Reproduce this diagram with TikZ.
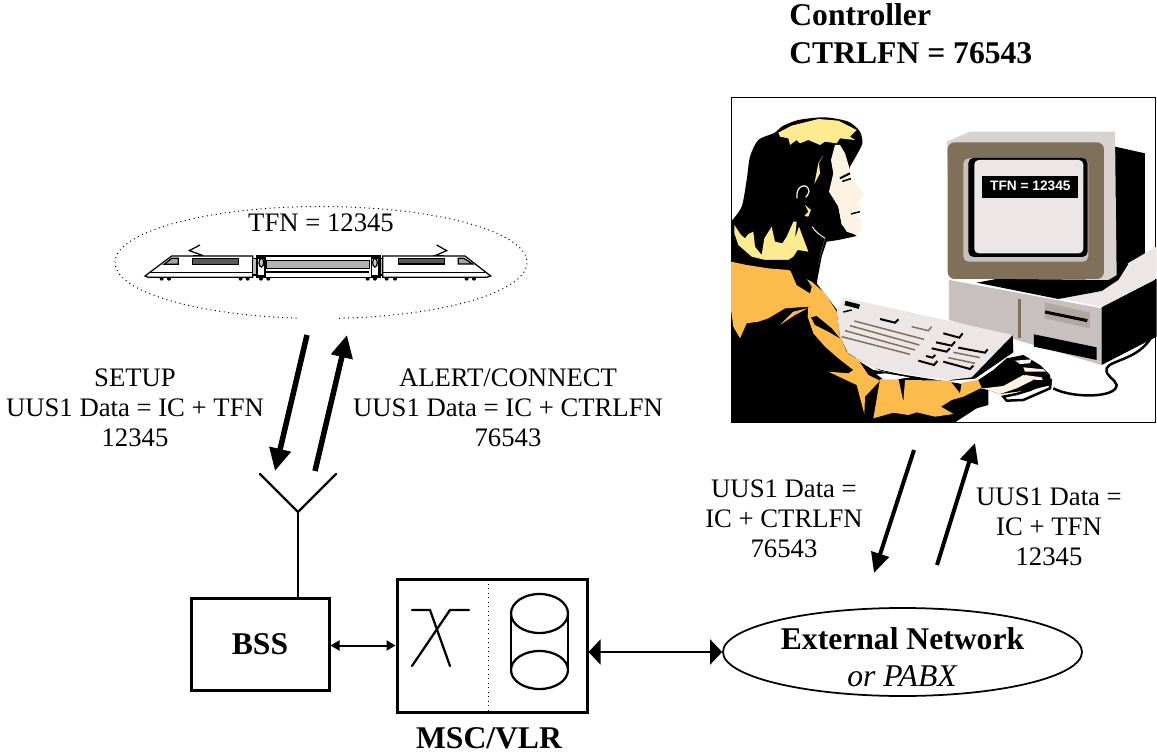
\documentclass[tikz,border=0pt]{standalone}
\usepackage{fontspec}
\setmainfont{Liberation Serif}
\newfontfamily\screenfont{Liberation Sans}
\usetikzlibrary{arrows.meta,shapes.geometric}
\definecolor{jacket}{HTML}{FDBB4B}
\definecolor{blonde}{HTML}{FDEB8F}
\definecolor{skin}{HTML}{FDF3E3}
\definecolor{casing}{HTML}{D9D2D2}
\definecolor{bezel}{HTML}{7F7059}
\definecolor{inner}{HTML}{C8C0BE}
\definecolor{glass}{HTML}{EDE6E6}
\tikzset{
	msg/.style={font=\fontsize{15.2}{17}\selectfont, align=center, inner sep=0pt},
	head/.style={font=\fontsize{18}{20.5}\selectfont\bfseries, align=left, inner sep=0pt},
	box/.style={draw, line width=0.6mm, rectangle, inner sep=0pt},
	radio/.style={line width=1.1mm, -{Triangle[length=4.5mm,width=4.2mm]}},
	radiothin/.style={line width=0.8mm, -{Triangle[length=4mm,width=3.6mm]}},
	wire/.style={line width=0.45mm, line cap=round},
	smalllink/.style={line width=0.4mm, {Triangle[length=1.8mm,width=2mm]}-{Triangle[length=1.8mm,width=2mm]}},
	biglink/.style={line width=0.4mm, {Triangle[length=2.4mm,width=5mm]}-{Triangle[length=2.4mm,width=5mm]}},
	art/.style={x=0.02cm/3, y=-0.02cm/3},
	train/.style={draw, line width=0.25mm, fill=white},
	keyline/.style={draw=bezel, line width=0.3mm},
	keyblack/.style={draw=black, line width=0.4mm}
}
\begin{document}
\begin{tikzpicture}[x=0.02cm, y=-0.02cm]
	\useasboundingbox (0,0) rectangle (1157,753);
	
	%%%%% texts %%%%%
	\node[head, anchor=base west] (ctrltitle) at (789,25.5) {Controller};
	\node[head, anchor=base west] (ctrlnum) at (789,64) {CTRLFN = 76543};
	\node[msg] (setup) at (135,408) {SETUP\\UUS1 Data = IC + TFN\\12345};
	\node[msg] (alert) at (508,408) {ALERT/CONNECT\\UUS1 Data = IC + CTRLFN\\76543};
	\node[msg] (datadown) at (784,519) {UUS1 Data =\\IC + CTRLFN\\76543};
	\node[msg] (dataup) at (1049,527) {UUS1 Data =\\IC + TFN\\12345};
	
	%%%%% train %%%%%
	\draw[dotted, line width=0.2mm] (321,262.5) ++(96.8:206 and 56) arc[start angle=96.8, end angle=445, x radius=206, y radius=56];
	\begin{scope}[shift={(100,190)}, art]
		\draw[line width=0.25mm] (300,165) -- (268,182) -- (310,197);
		\draw[line width=0.25mm] (1010,165) -- (1040,182) -- (1005,197);
		\fill[black] (280,195) rectangle (310,199);
		\fill[black] (1000,195) rectangle (1033,199);
		\foreach \w in {185,207,422,443,483,505,803,825,860,885,1100,1122}
			\fill (\w,266) circle (6);
		\draw[train] (135,258) -- (215,198) -- (458,198) -- (458,262) -- (145,262) -- cycle;
		\draw[train] (470,198) rectangle (840,262);
		\draw[train] (848,198) -- (1095,198) -- (1172,258) -- (1160,262) -- (848,262) -- cycle;
		\draw[train, fill=black!25] (458,205) rectangle (470,255);
		\draw[train, fill=black!25] (840,205) rectangle (848,255);
		\fill (150,245) rectangle (458,250);
		\fill (498,243) rectangle (808,250);
		\fill (848,245) rectangle (1155,250);
		\draw[train, fill=black!65] (278,205) rectangle (415,223);
		\draw[train, fill=black!30] (500,211) rectangle (808,235);
		\draw[train, fill=black!65] (895,205) rectangle (1033,222);
		\draw[train, fill=black!35] (192,223) -- (215,205) -- (235,205) -- (235,223) -- cycle;
		\draw[train, fill=black!35] (1075,205) -- (1092,205) -- (1118,222) -- (1075,222) -- cycle;
		\draw[train] (473,204) rectangle (495,258);
		\draw[train] (815,204) rectangle (835,258);
		\draw[train, fill=black!20] (484,218) ellipse (7 and 13);
		\draw[train, fill=black!20] (825,218) ellipse (7 and 13);
	\end{scope}
	\node[msg] (tfnlabel) at (321,223) {TFN = 12345};
	
	%%%%% controller %%%%%
	\begin{scope}[shift={(725,90)}, art]
		\draw[line width=0.2mm, fill=white] (18,22) rectangle (1293,997);
		% computer
		\fill[black] (1170,170) -- (1260,190) -- (1260,500) -- (1170,570) -- cycle;
		\fill[inner] (672,570) -- (1130,655) -- (1130,825) -- (672,690) -- cycle;
		\fill[glass] (1200,525) -- (1260,490) -- (1295,470) -- (1295,565) -- (1130,650) -- (1000,625) -- (1130,600) -- cycle;
		\fill[black] (1130,652) -- (1295,567) -- (1295,740) -- (1130,825) -- cycle;
		\fill[black] (755,578) -- (1000,627) -- (1130,603) -- (1180,570) -- (1210,522) -- (1175,500) -- cycle;
		\fill[casing] (665,155) -- (735,125) -- (1170,125) -- (1175,555) -- (1150,570) -- (680,565) -- cycle;
		\fill[bezel, rounded corners=4pt] (668,157) rectangle (1137,567);
		\fill[inner, rounded corners=3pt] (715,205) rectangle (1090,515);
		\fill[black, rounded corners=3pt] (730,204) rectangle (1088,501);
		\fill[glass, rounded corners=2.5pt] (748,210) rectangle (1075,490);
		\fill[black] (770,257) rectangle (1058,325);
		\node[text=white, inner sep=0pt, font=\fontsize{7.8}{9}\selectfont\screenfont\bfseries] (screenlabel) at (916,286) {TFN = 12345};
		\fill[bezel] (880,628) rectangle (888,745);
		\fill[inner!70!bezel] (960,637) -- (1095,668) -- (1095,715) -- (960,685) -- cycle;
		\draw[line width=0.6mm] (960,666) -- (1087,692);
		\fill[black] (927,733) -- (1115,772) -- (1115,810) -- (927,770) -- cycle;
		\draw[line width=0.5mm] (985,895) .. controls (1040,925) and (1175,925) .. (1175,885) .. controls (1170,865) and (1140,860) .. (1145,835) .. controls (1155,810) and (1240,810) .. (1280,740);
	\end{scope}
	
	% head
	\begin{scope}[shift={(725,110)}, art]
		\fill[black] plot[smooth, tension=0.45] coordinates {(18,335) (50,290) (65,210) (75,140) (100,90) (150,68) (170,50) (220,30) (300,22) (370,35) (405,65) (412,100) (395,135) (375,170)} -- (340,290) -- (350,345) -- (395,378) -- (340,390) -- (305,395) -- (290,440) -- (275,520) -- (18,520) -- cycle;
		\fill[blonde] (160,68) -- (200,47) -- (280,27) -- (340,32) -- (395,60) -- (375,80) -- (390,90) -- (345,85) -- (335,100) -- (300,95) -- (285,105) -- (250,90) -- (225,100) -- (215,90) -- (195,105) -- (190,85) -- (165,80) -- cycle;
		\fill[blonde] (295,135) -- (280,160) -- (268,222) -- (285,190) -- (282,160) -- cycle;
		\fill[blonde] (28,345) -- (48,375) -- (60,385) -- (70,372) -- (85,365) -- (90,410) -- (110,435) -- (118,385) -- (140,350) -- (150,395) -- (172,400) -- (185,380) -- (205,335) -- (215,335) -- (210,385) -- (222,350) -- (250,425) -- (218,420) -- (205,440) -- (160,470) -- (120,450) -- (80,440) -- (40,405) -- (28,370) -- cycle;
		\fill[blonde] (240,285) -- (258,300) -- (250,320) -- (238,318) -- (250,305) -- cycle;
		\fill[skin] (330,105) -- (345,105) -- (360,130) -- (375,180) -- (385,215) -- (400,230) -- (418,255) -- (405,270) -- (395,280) -- (410,290) -- (395,300) -- (380,315) -- (410,325) -- (405,345) -- (410,360) -- (395,375) -- (365,365) -- (350,340) -- (340,290) -- (312,245) -- (325,190) -- (318,150) -- cycle;
		\draw[line width=0.4mm] (345,205) -- (375,190);
		\draw[line width=0.3mm] (352,214) -- (378,206);
		\draw[line width=0.3mm] (378,312) -- (405,305);
		\draw[skin, line width=0.25mm] (216,265) .. controls (210,225) and (250,215) .. (252,245) .. controls (250,255) and (245,258) .. (242,262);
		\draw[skin, line width=0.2mm] (262,350) .. controls (270,365) and (285,375) .. (300,385);
		\fill[skin] (300,385) -- (290,420) -- (275,480) -- (285,440) -- cycle;
	\end{scope}
	
	% jacket
	\begin{scope}[shift={(725,260)}, art]
		\fill[black] (18,0) -- (280,0) -- (275,70) -- (340,155) -- (350,240) -- (372,285) -- (445,330) -- (700,370) -- (790,390) -- (790,435) -- (755,445) -- (690,487) -- (18,487) -- cycle;
		\fill[jacket] (18,5) -- (65,15) -- (130,25) -- (190,30) -- (260,65) -- (300,100) -- (335,155) -- (345,230) -- (365,275) -- (400,300) -- (430,345) -- (465,362) -- (420,410) -- (418,462) -- (395,375) -- (310,335) -- (370,340) -- (385,330) -- (340,295) -- (300,260) -- (265,220) -- (248,170) -- (250,140) -- (180,145) -- (130,175) -- (100,185) -- (65,190) -- (45,235) -- (25,200) -- (18,150) -- cycle;
		\fill[jacket] (165,195) -- (205,155) -- (248,145) -- (210,165) -- cycle;
		\fill[black] (258,172) -- (275,168) -- (320,205) -- (345,235) -- (310,215) -- (270,195) -- cycle;
		\fill[black] (195,28) -- (235,42) -- (260,80) -- (255,100) -- (215,75) -- cycle;
	\end{scope}
	
	% keyboard and hand
	\begin{scope}[shift={(860,290)}, art]
		\fill[jacket] (60,268) -- (115,265) -- (130,335) -- (135,270) -- (270,272) -- (300,310) -- (305,278) -- (355,270) -- (365,293) -- (310,320) -- (275,330) -- (243,350) -- (280,372) -- (225,380) -- (170,367) -- (145,375) -- (100,368) -- (40,385) -- cycle;
		\fill[white] (50,253) -- (75,250) -- (150,262) -- (110,268) -- (70,268) -- cycle;
		\draw[line width=0.15mm] (-35,190) -- (60,240) -- (190,270);
		\fill[black] (458,135) -- (460,187) -- (345,266) -- (270,272) -- (300,240) -- cycle;
		\fill[glass] (-50,23) -- (458,135) -- (335,262) -- (270,270) -- (155,255) -- (45,235) -- (-35,190) -- (-60,140) -- (-70,65) -- cycle;
		\draw[line width=0.9mm] (-45,39) -- (-2,50);
		\draw[line width=0.3mm] (-50,66) -- (-25,60);
		\draw[keyblack] (60,87) -- (105,98) -- (115,88);
		\draw[keyline] (155,110) -- (205,122) -- (215,110);
		\draw[keyblack] (250,130) -- (298,143) -- (308,130);
		\draw[keyblack] (228,157) -- (275,167) -- (285,155);
		\draw[keyblack] (215,175) -- (260,185) -- (270,175);
		\draw[keyblack] (295,173) -- (375,188) -- (383,178);
		\draw[keyblack] (198,198) -- (218,203) -- (226,195);
		\draw[keyblack] (175,212) -- (222,225) -- (232,213);
		\draw[keyblack] (250,215) -- (330,237) -- (340,227);
		\draw[keyline] (-17,93) -- (192,148);
		\draw[keyline] (-30,107) -- (178,165);
		\draw[keyline] (-45,122) -- (165,180);
		\draw[keyline] (-55,140) -- (150,193);
		\draw[keyline] (280,187) -- (360,203);
		\draw[keyline] (265,203) -- (345,220);
		\draw[line width=0.5mm, fill=white] (430,320) -- (440,332) -- (490,330) -- (570,295) -- (572,272) -- (510,300) -- (470,312) -- cycle;
		\fill[black] (355,270) -- (400,240) -- (440,205) -- (490,195) -- (540,225) -- (570,255) -- (575,285) -- (510,300) -- (420,312) -- (385,300) -- (365,293) -- cycle;
		\fill[skin] (370,295) -- (430,288) -- (490,255) -- (520,270) -- (470,295) -- (420,312) -- cycle;
		\fill[skin] (465,212) -- (515,208) -- (510,220) -- (480,222) -- cycle;
		\fill[skin] (490,232) -- (550,238) -- (558,245) -- (495,245) -- cycle;
		\fill[skin] (495,255) -- (545,262) -- (548,270) -- (490,268) -- cycle;
	\end{scope}
	
	%%%%% network %%%%%
	\node[box, minimum width=0.02cm*138, minimum height=0.02cm*92, font=\fontsize{18}{20}\selectfont\bfseries] (bss) at (260,644) {\raisebox{-1pt}{BSS}};
	\node[box, minimum width=0.02cm*190, minimum height=0.02cm*133] (msc) at (492,645.5) {};
	\node[head, anchor=base, align=center] (msclabel) at (489,748) {MSC/VLR};
	\node[draw, ellipse, line width=0.35mm, minimum width=0.02cm*359, minimum height=0.02cm*88, inner sep=0pt] (ext) at (902.5,652) {};
	\node[font=\fontsize{18}{21}\selectfont, align=center, inner sep=0pt] (extlabel) at (902.5,657) {\textbf{External Network}\\\textit{or PABX}};
	
	\coordinate (antl) at (260,474);
	\coordinate (antb) at (298,512);
	\coordinate (antr) at (336,474);
	\draw[wire] (antl) -- (antb) -- (antr);
	\draw[wire] (antb) -- (antb |- bss.north);
	
	% switch and register inside the msc
	\draw[wire] (412,610) -- (430,610) -- (450,666);
	\draw[wire] (469,610) -- (450,610) -- (412,666);
	\draw[dotted, line width=0.2mm] (488.6,579) -- (488.6,712);
	\draw[wire] (539.5,613.5) ellipse (28.5 and 19.5);
	\draw[wire] (539.5,670) ellipse (28.5 and 19);
	\draw[wire] (511,613.5) -- (511,670);
	\draw[wire] (568,613.5) -- (568,670);
	
	\draw[smalllink] (msc.west -| bss.east) -- (msc.west);
	\draw[biglink] (ext.west -| msc.east) -- (ext.west);
	
	%%%%% radio and data arrows %%%%%
	\coordinate (downa) at (307,335);
	\coordinate (downb) at (275,471);
	\coordinate (upa) at (315,471);
	\coordinate (upb) at (347,335);
	\draw[radio] (downa) -- (downb);
	\draw[radio] (upa) -- (upb);
	
	\coordinate (ctrla) at (914,450);
	\coordinate (ctrlb) at (874,573);
	\coordinate (ctrlc) at (937,565);
	\coordinate (ctrld) at (975,443);
	\draw[radiothin] (ctrla) -- (ctrlb);
	\draw[radiothin] (ctrlc) -- (ctrld);
\end{tikzpicture}
\end{document}
